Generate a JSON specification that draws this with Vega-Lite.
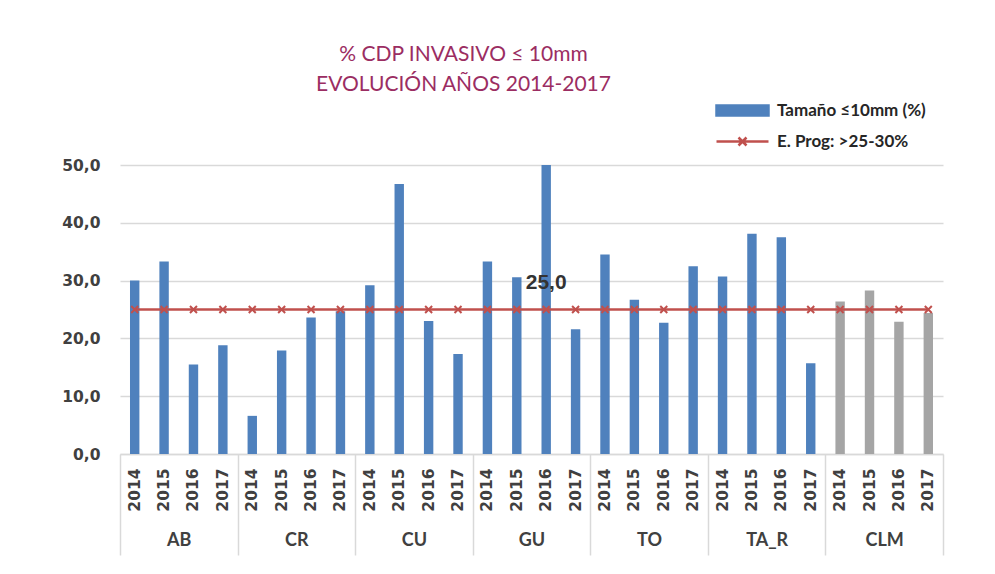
{
  "$schema": "https://vega.github.io/schema/vega-lite/v6.json",
  "width": 823,
  "height": 289,
  "autosize": {"type": "none"},
  "padding": {"left": 120, "top": 165, "right": 52, "bottom": 120},
  "background": "white",
  "title": {
    "text": ["% CDP INVASIVO ≤ 10mm", "EVOLUCIÓN AÑOS 2014-2017"],
    "font": "Lato",
    "fontSize": 21,
    "fontWeight": "normal",
    "color": "#9B2D62",
    "lineHeight": 30,
    "anchor": "middle",
    "dx": -68,
    "offset": 7
  },
  "data": {
    "values": [
      {"g": "AB", "k": "AB-2014", "v": 30.0, "t": 25},
      {"g": "AB", "k": "AB-2015", "v": 33.3, "t": 25},
      {"g": "AB", "k": "AB-2016", "v": 15.5, "t": 25},
      {"g": "AB", "k": "AB-2017", "v": 18.8, "t": 25},
      {"g": "CR", "k": "CR-2014", "v": 6.6, "t": 25},
      {"g": "CR", "k": "CR-2015", "v": 17.9, "t": 25},
      {"g": "CR", "k": "CR-2016", "v": 23.6, "t": 25},
      {"g": "CR", "k": "CR-2017", "v": 24.7, "t": 25},
      {"g": "CU", "k": "CU-2014", "v": 29.2, "t": 25},
      {"g": "CU", "k": "CU-2015", "v": 46.7, "t": 25},
      {"g": "CU", "k": "CU-2016", "v": 23.0, "t": 25},
      {"g": "CU", "k": "CU-2017", "v": 17.3, "t": 25},
      {"g": "GU", "k": "GU-2014", "v": 33.3, "t": 25},
      {"g": "GU", "k": "GU-2015", "v": 30.6, "t": 25},
      {"g": "GU", "k": "GU-2016", "v": 50.0, "t": 25},
      {"g": "GU", "k": "GU-2017", "v": 21.6, "t": 25},
      {"g": "TO", "k": "TO-2014", "v": 34.5, "t": 25},
      {"g": "TO", "k": "TO-2015", "v": 26.7, "t": 25},
      {"g": "TO", "k": "TO-2016", "v": 22.7, "t": 25},
      {"g": "TO", "k": "TO-2017", "v": 32.5, "t": 25},
      {"g": "TA_R", "k": "TA_R-2014", "v": 30.7, "t": 25},
      {"g": "TA_R", "k": "TA_R-2015", "v": 38.1, "t": 25},
      {"g": "TA_R", "k": "TA_R-2016", "v": 37.5, "t": 25},
      {"g": "TA_R", "k": "TA_R-2017", "v": 15.7, "t": 25},
      {"g": "CLM", "k": "CLM-2014", "v": 26.4, "t": 25},
      {"g": "CLM", "k": "CLM-2015", "v": 28.3, "t": 25},
      {"g": "CLM", "k": "CLM-2016", "v": 22.9, "t": 25},
      {"g": "CLM", "k": "CLM-2017", "v": 24.4, "t": 25}
    ]
  },
  "layer": [
    {
      "layer": [
        {
          "mark": {"type": "bar"},
          "encoding": {
            "x": {
              "field": "k",
              "type": "nominal",
              "sort": null,
              "scale": {"type": "band", "paddingInner": 0.68, "paddingOuter": 0.34},
              "axis": {
                "orient": "bottom",
                "title": null,
                "labelExpr": "split(datum.value, '-')[1]",
                "labelAngle": -90,
                "labelPadding": 14,
                "labelOverlap": false,
                "labelFont": "DejaVu Sans",
                "labelFontWeight": "bold",
                "labelFontSize": 15.5,
                "labelColor": "#404040",
                "ticks": false,
                "grid": false,
                "domain": true,
                "domainColor": "#D9D9D9",
                "domainWidth": 1.5
              }
            },
            "y": {
              "field": "v",
              "type": "quantitative",
              "scale": {"domain": [0, 50], "nice": false},
              "axis": {
                "title": null,
                "values": [0, 10, 20, 30, 40, 50],
                "labelExpr": "replace(format(datum.value, '.1f'), '.', ',')",
                "domain": false,
                "ticks": false,
                "grid": true,
                "gridColor": "#D9D9D9",
                "gridWidth": 1.5,
                "labelFont": "DejaVu Sans",
                "labelFontWeight": "bold",
                "labelFontSize": 15.5,
                "labelColor": "#404040",
                "labelPadding": 20
              }
            },
            "color": {
              "condition": {"test": "datum.g === 'CLM'", "value": "#A5A5A5"},
              "datum": "Tamaño ≤10mm (%)",
              "type": "nominal",
              "scale": {
                "domain": ["Tamaño ≤10mm (%)", "E. Prog: >25-30%"],
                "range": ["#4F81BD", "#C0504D"]
              },
              "legend": {
                "orient": "none",
                "legendX": 614,
                "legendY": -63,
                "title": null,
                "padding": 0,
                "direction": "vertical",
                "symbolSize": 100,
                "labelOffset": 26,
                "rowPadding": 11,
                "labelFont": "Lato",
                "labelFontWeight": "bold",
                "labelFontSize": 17,
                "labelColor": "#262626",
                "encode": {
                  "symbols": {
                    "update": {
                      "shape": {"signal": "datum.value === 'Tamaño ≤10mm (%)' ? 'M-5.2,-1H5.2V1H-5.2Z' : 'M-5.2,0H5.2M-0.8,-0.8L0.8,0.8M-0.8,0.8L0.8,-0.8'"},
                      "fill": {"signal": "datum.value === 'Tamaño ≤10mm (%)' ? '#4F81BD' : 'transparent'"},
                      "stroke": {"signal": "datum.value === 'Tamaño ≤10mm (%)' ? 'transparent' : '#C0504D'"},
                      "strokeWidth": {"value": 2.5},
                      "opacity": {"value": 1}
                    }
                  }
                }
              }
            }
          }
        },
        {
          "mark": {"type": "line", "strokeWidth": 2.5},
          "encoding": {
            "x": {"field": "k", "type": "nominal", "sort": null},
            "y": {"field": "t", "type": "quantitative"},
            "color": {"datum": "E. Prog: >25-30%", "type": "nominal"}
          }
        },
        {
          "mark": {
            "type": "point",
            "shape": "M-1,-1L1,1M-1,1L1,-1",
            "filled": false,
            "color": "#C0504D",
            "strokeWidth": 2,
            "size": 49,
            "opacity": 1
          },
          "encoding": {
            "x": {"field": "k", "type": "nominal", "sort": null},
            "y": {"field": "t", "type": "quantitative"}
          }
        },
        {
          "mark": {
            "type": "text",
            "font": "Liberation Sans",
            "fontWeight": "bold",
            "fontSize": 21,
            "color": "#333333",
            "baseline": "middle",
            "dy": -27
          },
          "encoding": {
            "x": {"field": "k", "type": "nominal", "sort": null},
            "y": {"field": "t", "type": "quantitative"},
            "text": {"condition": {"test": "datum.k === 'GU-2016'", "value": "25,0"}, "value": ""}
          }
        }
      ]
    },
    {
      "mark": {"type": "point", "opacity": 0},
      "encoding": {
        "x": {
          "field": "g",
          "type": "nominal",
          "sort": null,
          "scale": {"type": "band", "paddingInner": 0, "paddingOuter": 0},
          "axis": {
            "orient": "bottom",
            "title": null,
            "domain": false,
            "grid": false,
            "ticks": true,
            "tickBand": "extent",
            "tickSize": 101,
            "tickColor": "#D9D9D9",
            "tickWidth": 1.5,
            "labelAngle": 0,
            "labelPadding": -24,
            "labelFont": "Lato",
            "labelFontWeight": "bold",
            "labelFontSize": 18,
            "labelColor": "#404040"
          }
        },
        "y": {"field": "t", "type": "quantitative"}
      }
    }
  ],
  "resolve": {"scale": {"x": "independent"}, "axis": {"x": "independent"}},
  "config": {
    "view": {"stroke": null}
  }
}
